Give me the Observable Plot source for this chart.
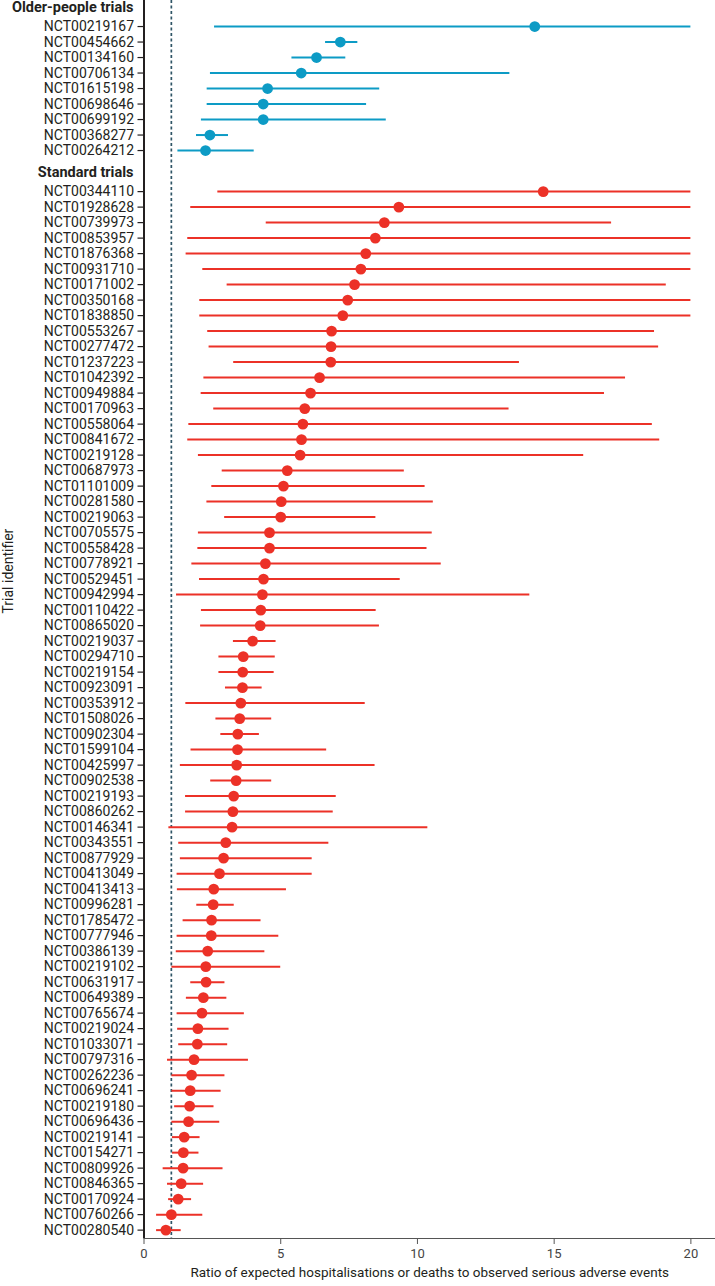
<!DOCTYPE html>
<html>
<head>
<meta charset="utf-8">
<script src="https://cdn.jsdelivr.net/npm/d3@7"></script>
<script src="https://cdn.jsdelivr.net/npm/@observablehq/plot@0.6"></script>
<style>
  html, body { margin: 0; padding: 0; background: #fff; }
  #chart svg { display: block; }
</style>
</head>
<body>
<div id="chart"></div>
<script>
// ---- Data ----
const olderTrials = ["NCT00219167","NCT00454662","NCT00134160","NCT00706134","NCT01615198","NCT00698646","NCT00699192","NCT00368277","NCT00264212"];
const olderEstimate = [14.29, 7.18, 6.31, 5.75, 4.52, 4.36, 4.36, 2.41, 2.25];
const olderLow      = [2.58, 6.64, 5.41, 2.43, 2.31, 2.31, 2.10, 1.92, 1.24];
const olderHigh     = [20, 7.82, 7.38, 13.38, 8.62, 8.14, 8.86, 3.09, 4.03];

const standardTrials = ["NCT00344110","NCT01928628","NCT00739973","NCT00853957","NCT01876368","NCT00931710","NCT00171002","NCT00350168","NCT01838850","NCT00553267","NCT00277472","NCT01237223","NCT01042392","NCT00949884","NCT00170963","NCT00558064","NCT00841672","NCT00219128","NCT00687973","NCT01101009","NCT00281580","NCT00219063","NCT00705575","NCT00558428","NCT00778921","NCT00529451","NCT00942994","NCT00110422","NCT00865020","NCT00219037","NCT00294710","NCT00219154","NCT00923091","NCT00353912","NCT01508026","NCT00902304","NCT01599104","NCT00425997","NCT00902538","NCT00219193","NCT00860262","NCT00146341","NCT00343551","NCT00877929","NCT00413049","NCT00413413","NCT00996281","NCT01785472","NCT00777946","NCT00386139","NCT00219102","NCT00631917","NCT00649389","NCT00765674","NCT00219024","NCT01033071","NCT00797316","NCT00262236","NCT00696241","NCT00219180","NCT00696436","NCT00219141","NCT00154271","NCT00809926","NCT00846365","NCT00170924","NCT00760266","NCT00280540"];
const standardEstimate = [14.60, 9.32, 8.79, 8.46, 8.11, 7.93, 7.70, 7.45, 7.27, 6.86, 6.84, 6.83, 6.42, 6.09, 5.88, 5.81, 5.76, 5.71, 5.24, 5.10, 5.02, 5.00, 4.59, 4.59, 4.44, 4.37, 4.33, 4.27, 4.25, 3.97, 3.63, 3.61, 3.60, 3.54, 3.50, 3.43, 3.42, 3.39, 3.37, 3.28, 3.25, 3.22, 2.99, 2.91, 2.76, 2.55, 2.53, 2.47, 2.46, 2.33, 2.26, 2.27, 2.17, 2.12, 1.97, 1.95, 1.83, 1.74, 1.69, 1.67, 1.63, 1.47, 1.44, 1.43, 1.36, 1.25, 1.00, 0.80];
const standardLow = [2.70, 1.71, 4.47, 1.60, 1.54, 2.15, 3.04, 2.04, 2.04, 2.33, 2.38, 3.28, 2.19, 2.09, 2.55, 1.64, 1.60, 1.99, 2.86, 2.48, 2.30, 2.95, 1.99, 1.97, 1.75, 2.03, 1.19, 2.10, 2.07, 3.27, 2.74, 2.74, 2.98, 1.53, 2.63, 2.81, 1.72, 1.33, 2.44, 1.52, 1.52, 0.91, 1.27, 1.33, 1.21, 1.22, 1.93, 1.43, 1.21, 1.18, 1.02, 1.71, 1.55, 1.21, 1.23, 1.27, 0.86, 1.02, 1.02, 1.12, 1.02, 1.04, 1.04, 0.70, 0.86, 0.90, 0.46, 0.46];
const standardHigh = [20, 20, 17.10, 20, 20, 20, 19.10, 20, 20, 18.67, 18.82, 13.73, 17.61, 16.84, 13.35, 18.59, 18.86, 16.08, 9.52, 10.28, 10.58, 8.48, 10.54, 10.35, 10.87, 9.37, 14.11, 8.49, 8.61, 4.83, 4.80, 4.76, 4.32, 8.09, 4.67, 4.22, 6.68, 8.45, 4.67, 7.03, 6.92, 10.38, 6.76, 6.15, 6.15, 5.21, 3.30, 4.28, 4.93, 4.42, 5.00, 2.96, 3.03, 3.67, 3.11, 3.06, 3.82, 2.96, 2.82, 2.56, 2.77, 2.05, 2.01, 2.89, 2.18, 1.74, 2.15, 1.36];

const groupHeaders = ["Older-people trials", "Standard trials"];
const xTicks = [0, 5, 10, 15, 20];
const referenceLine = [1];
const xLabel = "Ratio of expected hospitalisations or deaths to observed serious adverse events";
const yLabel = "Trial identifier";

// ---- Layout (row positions in row units) ----
const BLUE = "#0d9bc5";
const RED = "#ec3127";
const standardOffset = 10.65;
const headerPos = [-1.23, 9.42];

const rows = [
  ...olderTrials.map((id, i) => ({id, pos: i, est: olderEstimate[i], lo: olderLow[i], hi: olderHigh[i], color: BLUE})),
  ...standardTrials.map((id, j) => ({id, pos: standardOffset + j, est: standardEstimate[j], lo: standardLow[j], hi: standardHigh[j], color: RED}))
];
const headers = groupHeaders.map((label, i) => ({label, pos: headerPos[i]}));
const tickPositions = rows.map(d => d.pos);
const tickLabelMap = new Map(rows.map(d => [d.pos.toFixed(3), d.id]));

const plot = Plot.plot({
  width: 715,
  height: 1286,
  marginLeft: 143.5,
  marginRight: 0,
  marginTop: 0,
  marginBottom: 48,
  style: {fontFamily: "Roboto, 'Open Sans', sans-serif", color: "#231f20", background: "#fff"},
  x: {domain: [0, 20.9], axis: null},
  y: {domain: [-1.68, 78.19], reverse: true, axis: null},
  marks: [
    // x axis
    Plot.ruleY([78.19], {stroke: "#555", strokeWidth: 1.2}),
    Plot.axisX({ticks: xTicks, anchor: "bottom", tickSize: 6, tickPadding: 4, stroke: "#555", fill: "#444", fontSize: 13, label: null, tickFormat: d3.format("d")}),
    // y axis
    Plot.axisY({ticks: tickPositions, anchor: "left", tickSize: 6, tickPadding: 4, stroke: "#231f20", strokeWidth: 1.2, fill: "#231f20", fontSize: 14, label: null,
      tickFormat: d => tickLabelMap.get(d.toFixed(3)) ?? ""}),
    Plot.ruleX([0], {stroke: "#231f20", strokeWidth: 2}),
    // reference line
    Plot.ruleX(referenceLine, {stroke: "#2f5566", strokeWidth: 1.7, strokeDasharray: "3,2.5"}),
    // group headers
    Plot.text(headers, {x: 0, y: "pos", text: "label", textAnchor: "end", dx: -10.5, fontWeight: "bold", fontSize: 14.5, fill: "#231f20"}),
    // whiskers
    Plot.ruleY(rows, {y: "pos", x1: "lo", x2: "hi", stroke: "color", strokeWidth: 2}),
    // point estimates
    Plot.dot(rows, {y: "pos", x: "est", fill: "color", r: 5.4, stroke: null}),
    // axis titles
    Plot.text([xLabel], {frameAnchor: "bottom", dy: 38, fontSize: 13.5, fill: "#231f20"}),
    Plot.text([yLabel], {frameAnchor: "left", dx: -135, dy: -6, rotate: -90, fontSize: 14, fill: "#231f20"})
  ]
});

document.getElementById("chart").appendChild(plot);
</script>
</body>
</html>
